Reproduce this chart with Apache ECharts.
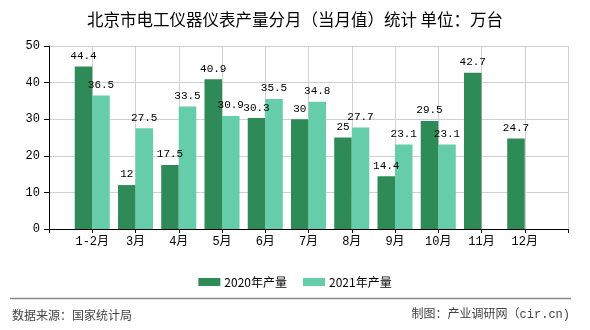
<!DOCTYPE html>
<html>
<head>
<meta charset="utf-8">
<script src="https://cdn.jsdelivr.net/npm/echarts@6/dist/echarts.min.js"></script>
<style>
html,body{margin:0;padding:0;background:#fff;}
#chart{width:590px;height:330px;}
</style>
</head>
<body>
<div id="chart"></div>
<script>
var categories = ['1-2月','3月','4月','5月','6月','7月','8月','9月','10月','11月','12月'];
var values2020 = [44.4, 12, 17.5, 40.9, 30.3, 30, 25, 14.4, 29.5, 42.7, 24.7];
var values2021 = [36.5, 27.5, 33.5, 30.9, 35.5, 34.8, 27.7, 23.1, 23.1, null, null];
var yTicks = [0, 10, 20, 30, 40, 50];
var seriesNames = ['2020年产量', '2021年产量'];

// pad an empty slot at both ends of the category axis
var axisCats = [''].concat(categories, ['']);
function pad(arr){ return [null].concat(arr, [null]); }

var monoFont = "'Liberation Mono','Noto Sans CJK SC',monospace";
var cjkFont = "'Noto Sans CJK SC','Noto Sans',sans-serif";

var chart = echarts.init(document.getElementById('chart'), null, {renderer:'canvas'});
var labelOpt = {
  show: true, position: 'top', distance: 5, color: '#000',
  fontFamily: monoFont, fontSize: 11,
  formatter: function(p){ return p.value == null ? '' : String(p.value); }
};
chart.setOption({
  animation: false,
  backgroundColor: '#fff',
  title: {
    text: '北京市电工仪器仪表产量分月（当月值）统计 单位：万台',
    left: 'center', top: 6,
    textStyle: {fontFamily: cjkFont, fontSize: 16.5, fontWeight: 'normal', color: '#000'}
  },
  legend: {
    data: seriesNames,
    left: 'center', top: 271,
    itemWidth: 22, itemHeight: 8, itemGap: 16,
    icon: 'rect',
    textStyle: {fontFamily: cjkFont, fontSize: 12, color: '#000', padding: [0,0,0,-1]}
  },
  grid: {left: 49, right: 22, top: 46, bottom: 101, containLabel: false},
  xAxis: {
    type: 'category',
    data: axisCats,
    boundaryGap: false,
    axisLine: {lineStyle: {color: '#000', width: 1}},
    axisTick: {show: true, length: 4, lineStyle: {color: '#000'}, interval: 0},
    axisLabel: {interval: 0, color: '#000', fontFamily: monoFont, fontSize: 12, margin: 7},
    splitLine: {show: true, interval: 0, lineStyle: {color: '#d0d0d0'}}
  },
  yAxis: {
    type: 'value',
    min: yTicks[0], max: yTicks[yTicks.length-1], interval: 10,
    axisLine: {show: true, lineStyle: {color: '#000'}},
    axisTick: {show: true, length: 5, lineStyle: {color: '#000'}},
    axisLabel: {color: '#000', fontFamily: monoFont, fontSize: 12, margin: 9},
    splitLine: {show: true, lineStyle: {color: '#d0d0d0'}}
  },
  series: [
    {name: seriesNames[0], type: 'bar', data: pad(values2020), barGap: 0, barCategoryGap: '19%',
     itemStyle: {color: '#2e8b57'}, label: labelOpt},
    {name: seriesNames[1], type: 'bar', data: pad(values2021), barGap: 0, barCategoryGap: '19%',
     itemStyle: {color: '#66cdaa'}, label: labelOpt}
  ],
  graphic: [
    {type: 'line', shape: {x1: 10, y1: 298.5, x2: 571, y2: 298.5}, style: {stroke: '#888', lineWidth: 1.5}},
    {type: 'text', left: 12, top: 309, style: {text: '数据来源：国家统计局', fontFamily: cjkFont, fontSize: 12, fill: '#444'}},
    {type: 'text', right: 20, top: 309, style: {text: '制图：产业调研网（cir.cn)', fontFamily: monoFont, fontSize: 12, fill: '#444'}}
  ]
});
</script>
</body>
</html>
